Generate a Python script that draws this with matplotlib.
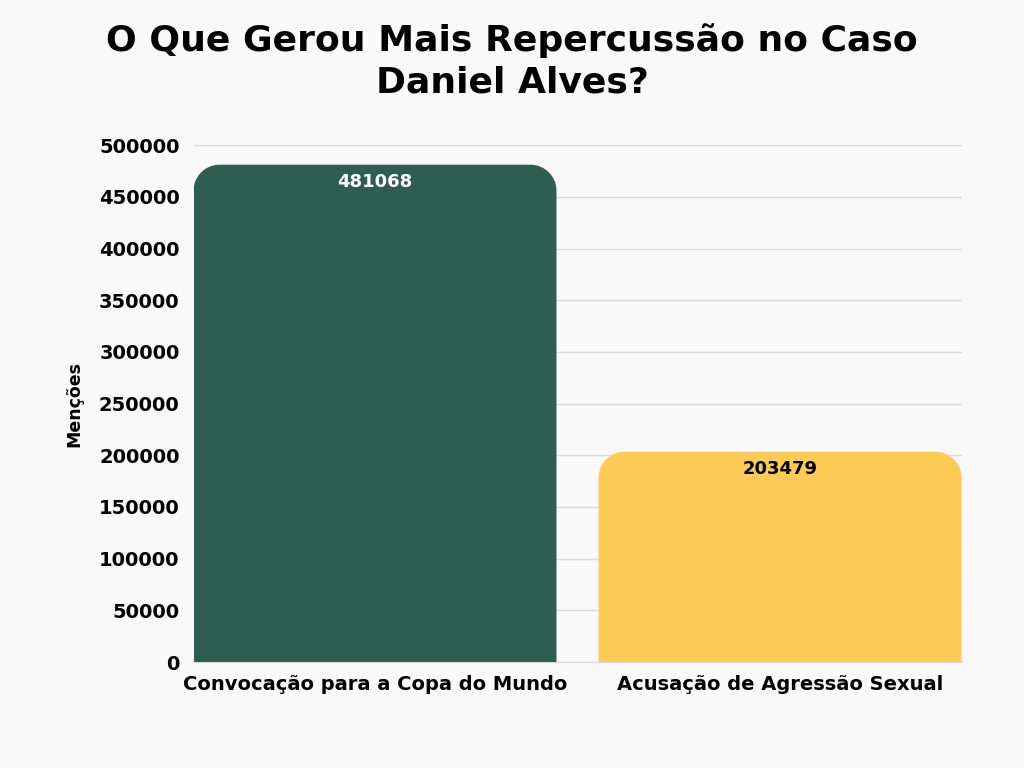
import matplotlib.pyplot as plt
from matplotlib.path import Path
from matplotlib.patches import PathPatch

categories = ["Convocação para a Copa do Mundo", "Acusação de Agressão Sexual"]
mentions = [481068, 203479]
bar_colors = ["#2F5E50", "#FFCB57"]
label_colors = ["white", "black"]
yticks = [0, 50000, 100000, 150000, 200000, 250000, 300000, 350000, 400000, 450000, 500000]

FONT = "DejaVu Sans"
BG = "#F9F9F9"


def rounded_top_bar(ax, x, h, width, radius_px, color):
    """Bar with rounded top corners, radius given in pixels."""
    bbox = ax.get_window_extent()
    x0, x1 = ax.get_xlim()
    y0, y1 = ax.get_ylim()
    rx = radius_px * (x1 - x0) / bbox.width
    ry = radius_px * (y1 - y0) / bbox.height
    left, right = x - width / 2, x + width / 2
    k = 0.5523
    verts = [
        (left, 0),
        (left, h - ry),
        (left, h - ry + k * ry), (left + rx - k * rx, h), (left + rx, h),
        (right - rx, h),
        (right - rx + k * rx, h), (right, h - ry + k * ry), (right, h - ry),
        (right, 0),
        (left, 0),
    ]
    codes = [Path.MOVETO, Path.LINETO,
             Path.CURVE4, Path.CURVE4, Path.CURVE4,
             Path.LINETO,
             Path.CURVE4, Path.CURVE4, Path.CURVE4,
             Path.LINETO, Path.CLOSEPOLY]
    ax.add_patch(PathPatch(Path(verts, codes), facecolor=color, edgecolor="none", zorder=3))


fig = plt.figure(figsize=(10.24, 7.68), dpi=100, facecolor=BG)
ax = fig.add_axes([0.189, 0.138, 0.750, 0.673], facecolor=BG)

width = 0.896
ax.set_xlim(-width / 2, 1 + width / 2)
ax.set_ylim(0, 500000)

for i, (v, c, lc) in enumerate(zip(mentions, bar_colors, label_colors)):
    rounded_top_bar(ax, i, v, width, 26, c)
    ax.text(i, v - 8000, str(v), ha="center", va="top", color=lc,
            fontsize=13, fontweight="bold", family=FONT, zorder=4)

ax.set_yticks(yticks)
ax.set_yticklabels([str(t) for t in yticks], fontsize=14, fontweight="bold", family=FONT)
ax.set_xticks([0, 1])
ax.set_xticklabels(categories, fontsize=14, fontweight="bold", family=FONT)
ax.tick_params(axis="y", length=0, pad=10)
ax.tick_params(axis="x", length=0, pad=9)
ax.grid(axis="y", color="#D9D9D9", linewidth=1, zorder=0)
ax.set_axisbelow(True)
for side in ["top", "right", "left"]:
    ax.spines[side].set_visible(False)
ax.spines["bottom"].set_color("#D9D9D9")

ax.set_ylabel("Menções", fontsize=12.5, fontweight="bold", family=FONT)
ax.yaxis.set_label_coords(-0.143, 0.5)

fig.text(0.5, 0.92, "O Que Gerou Mais Repercussão no Caso\nDaniel Alves?", ha="center", va="center",
         fontsize=26, fontweight="bold", family=FONT, linespacing=1.25)

fig.savefig("out.png", dpi=100, facecolor=BG)
